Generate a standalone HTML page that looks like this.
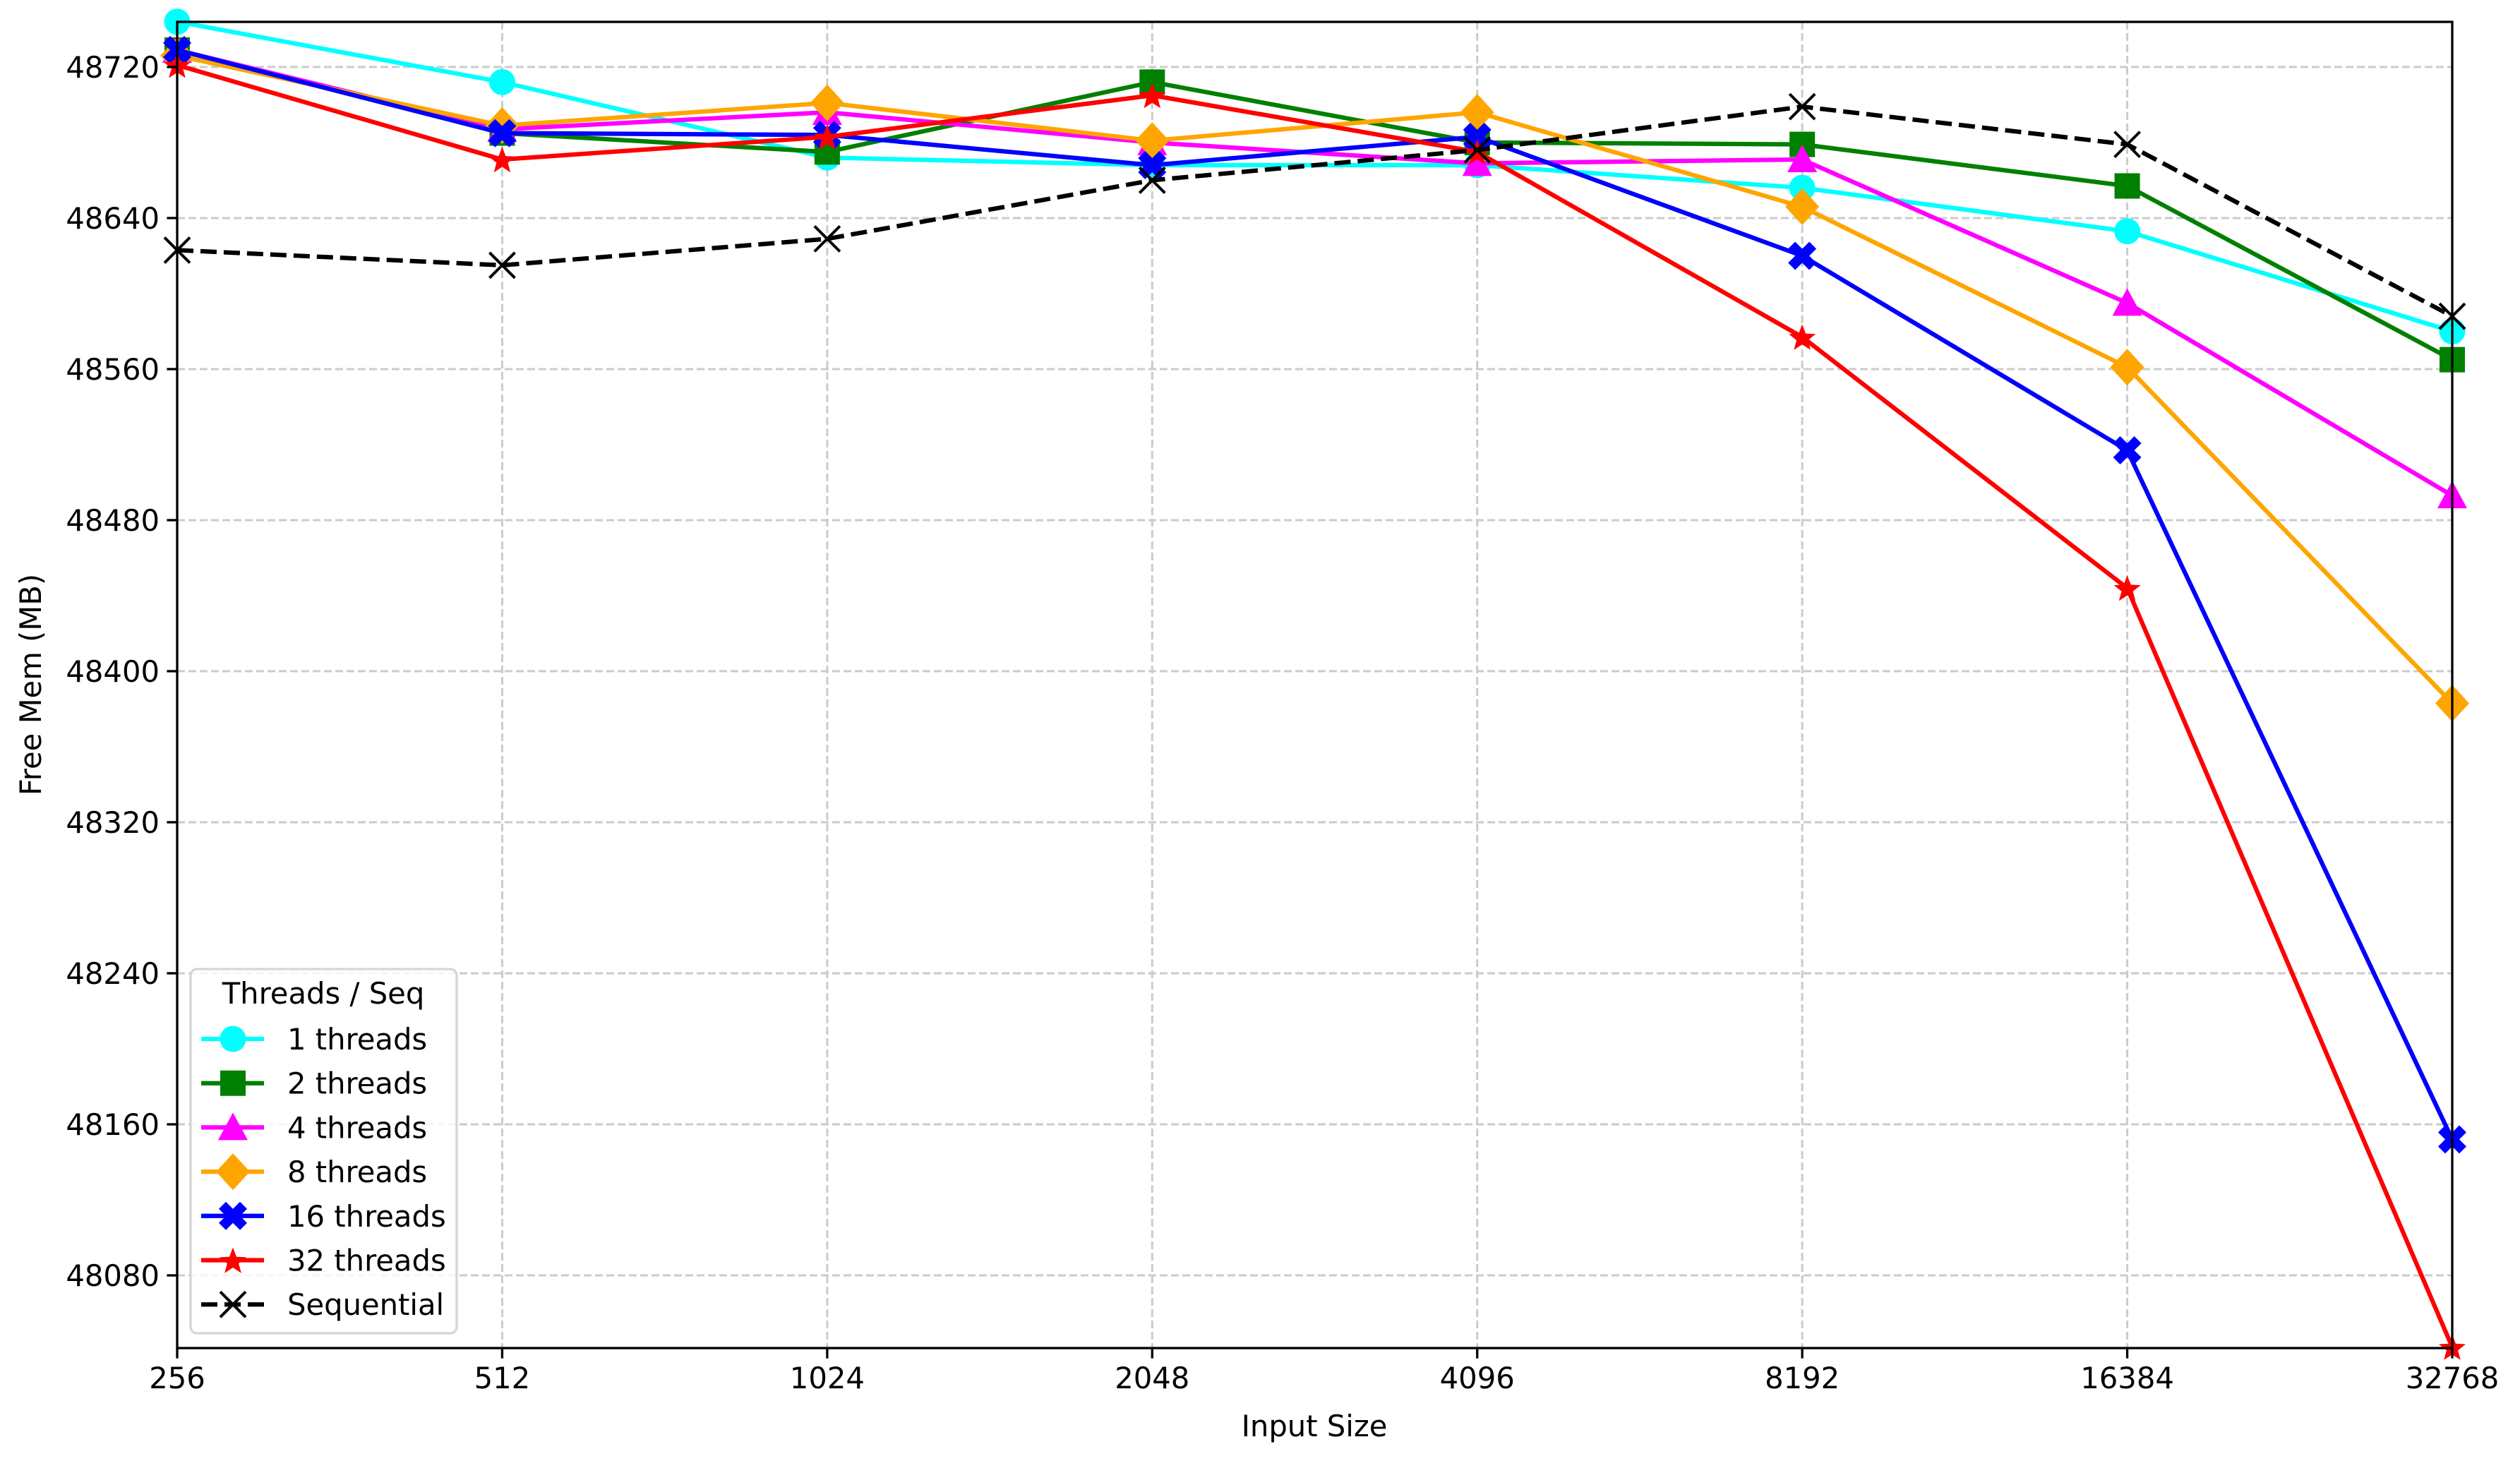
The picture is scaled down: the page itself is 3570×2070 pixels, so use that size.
<!DOCTYPE html>
<html><head><meta charset="utf-8"><style>
html,body{margin:0;padding:0;background:#fff;}
svg{display:block;font-family:"DejaVu Sans","Liberation Sans",sans-serif;}
</style></head><body>
<svg id="chart" width="3570" height="2070" viewBox="0 0 3570 2070" xmlns="http://www.w3.org/2000/svg">
<rect x="0" y="0" width="3570" height="2070" fill="#fff"/>
<g id="grid"></g>
<g id="series"></g>
<rect x="251" y="31" width="3223" height="1879" fill="none" stroke="#000" stroke-width="3.3"/>
<g id="ticks"></g>
<text x="1862" y="2035" font-size="41.7" text-anchor="middle">Input Size</text>
<text transform="translate(58,970) rotate(-90)" font-size="41.7" text-anchor="middle">Free Mem (MB)</text>
<g id="legend"></g>
</svg>
<script>
const categories = ["256","512","1024","2048","4096","8192","16384","32768"];
const yTicks = [48080,48160,48240,48320,48400,48480,48560,48640,48720];
const seriesNames = ["1 threads","2 threads","4 threads","8 threads","16 threads","32 threads","Sequential"];
const t1  = [48744,48712,48672,48668,48668,48656,48633,48580];
const t2  = [48729,48685,48675,48712,48680,48679,48657,48565];
const t4  = [48729,48687,48696,48680,48669,48671,48595,48493];
const t8  = [48726,48689,48701,48681,48696,48646,48561,48383];
const t16 = [48729,48685,48684,48668,48683,48620,48517,48152];
const t32 = [48721,48671,48683,48705,48675,48577,48444,48042];
const seq = [48623,48615,48629,48660,48676,48699,48679,48588];

const NS="http://www.w3.org/2000/svg";
const L=251,R=3474,T=31,B=1910;
const yMin=48041.5,yMax=48743.9;
function xPos(i){return L+(R-L)*i/(categories.length-1);}
function yPos(v){return B-(v-yMin)/(yMax-yMin)*(B-T);}
function mk(tag,attrs,parent){const e=document.createElementNS(NS,tag);for(const k in attrs)e.setAttribute(k,attrs[k]);parent.appendChild(e);return e;}

const grid=document.getElementById('grid'),ticks=document.getElementById('ticks');
categories.forEach((c,i)=>{
  const x=xPos(i);
  const g=mk('line',{x1:x,x2:x,y1:T,y2:B,stroke:'#cbcbcb','stroke-width':3,'stroke-dasharray':'11,5'},grid);
  
  
  const t=mk('line',{x1:x,x2:x,y1:B,y2:B+14.6,stroke:'#000','stroke-width':3.3},ticks);
  
  
  const lb=mk('text',{x:x,y:B+57,'font-size':41.7,'text-anchor':'middle'},ticks);
  lb.textContent=c;
  
  
});
yTicks.forEach(v=>{
  const y=yPos(v);
  const g=mk('line',{x1:L,x2:R,y1:y,y2:y,stroke:'#cbcbcb','stroke-width':3,'stroke-dasharray':'11,5'},grid);
  
  
  const t=mk('line',{x1:L-14.6,x2:L,y1:y,y2:y,stroke:'#000','stroke-width':3.3},ticks);
  
  
  const lb=mk('text',{x:L-25,y:y+15,'font-size':41.7,'text-anchor':'end'},ticks);
  lb.textContent=String(v);
  
  
});

const colors=['#00ffff','#008000','#ff00ff','#ffa500','#0000ff','#ff0000','#000000'];
const markers=['circle','square','triangle','diamond','xfilled','star','x'];
const allData=[t1,t2,t4,t8,t16,t32,seq];

function marker(type,x,y,c,parent){
  let e;
  if(type==='circle') e=mk('circle',{cx:x,cy:y,r:18.5,fill:c},parent);
  else if(type==='square') e=mk('rect',{x:x-18,y:y-18,width:36,height:36,fill:c},parent);
  else if(type==='triangle') e=mk('polygon',{points:`${x},${y-21} ${x+21},${y+18} ${x-21},${y+18}`,fill:c},parent);
  else if(type==='diamond') e=mk('polygon',{points:`${x},${y-26} ${x+24},${y} ${x},${y+26} ${x-24},${y}`,fill:c},parent);
  else if(type==='xfilled'){const a=10,b=20;e=mk('polygon',{points:`${x-b+a},${y-b} ${x},${y-a} ${x+b-a},${y-b} ${x+b},${y-b+a} ${x+a},${y} ${x+b},${y+b-a} ${x+b-a},${y+b} ${x},${y+a} ${x-b+a},${y+b} ${x-b},${y+b-a} ${x-a},${y} ${x-b},${y-b+a}`,fill:c},parent);}
  else if(type==='star'){let p=[];for(let k=0;k<10;k++){const r=k%2?8.5:20;const a=-Math.PI/2+k*Math.PI/5;p.push((x+r*Math.cos(a)).toFixed(1)+','+(y+r*Math.sin(a)+2).toFixed(1));}e=mk('polygon',{points:p.join(' '),fill:c},parent);}
  else {e=mk('path',{d:`M${x-18},${y-18}L${x+18},${y+18}M${x-18},${y+18}L${x+18},${y-18}`,stroke:c,'stroke-width':4,fill:'none'},parent);}
  return e;
}

const sg=document.getElementById('series');
allData.forEach((d,si)=>{
  const g=mk('g',{},sg);
  
  
  const pts=d.map((v,i)=>xPos(i).toFixed(1)+','+yPos(v).toFixed(1)).join(' ');
  const ln=mk('polyline',{points:pts,fill:'none',stroke:colors[si],'stroke-width':6.25,'stroke-linejoin':'round'},g);
  if(si===6) ln.setAttribute('stroke-dasharray','23,10');
  
  
  d.forEach((v,i)=>{
    const m=marker(markers[si],xPos(i),yPos(v),colors[si],g);
    
    
  });
});

const lg=document.getElementById('legend');
const box=mk('rect',{x:270,y:1373,width:377,height:516,rx:9,fill:'#fff','fill-opacity':0.8,stroke:'#d5d5d5','stroke-width':3.3},lg);


const title=mk('text',{x:458,y:1422,'font-size':41.7,'text-anchor':'middle'},lg);
title.textContent='Threads / Seq';


seriesNames.forEach((n,si)=>{
  const y=1472+si*62.7;
  const g=mk('g',{},lg);
  
  
  const l=mk('line',{x1:285,x2:374,y1:y,y2:y,stroke:colors[si],'stroke-width':6.25},g);
  if(si===6) l.setAttribute('stroke-dasharray','23,10');
  marker(markers[si],330,y,colors[si],g);
  const t=mk('text',{x:407,y:y+15,'font-size':41.7},g);
  t.textContent=n;
});
</script>
</body></html>
